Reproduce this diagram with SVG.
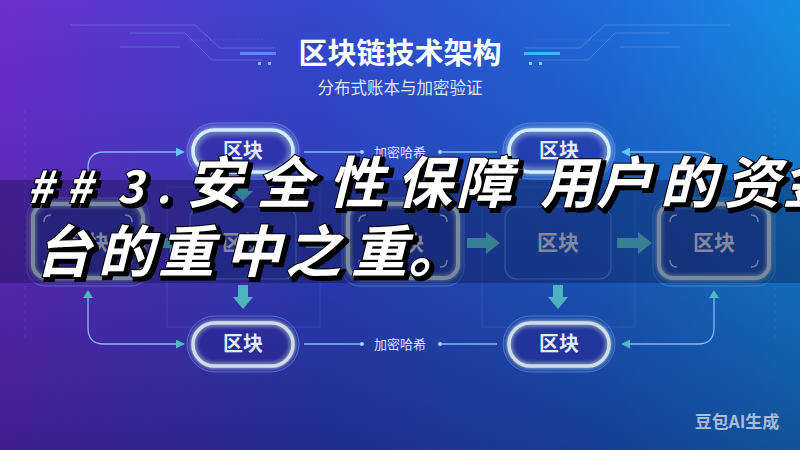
<svg xmlns="http://www.w3.org/2000/svg" width="800" height="450" viewBox="0 0 800 450">
<defs>
<linearGradient id="bgH" x1="0" y1="0" x2="1" y2="0">
<stop offset="0" stop-color="#6e2fd0"/>
<stop offset="0.4" stop-color="#3449cf"/>
<stop offset="0.75" stop-color="#1f6ad8"/>
<stop offset="1" stop-color="#168ee4"/>
</linearGradient>
<linearGradient id="bgV" x1="0" y1="0" x2="0" y2="1">
<stop offset="0" stop-color="#0a0a40" stop-opacity="0"/>
<stop offset="0.5" stop-color="#0a0a40" stop-opacity="0.2"/>
<stop offset="1" stop-color="#0a0a40" stop-opacity="0.45"/>
</linearGradient>
<filter id="glow" x="-30%" y="-50%" width="160%" height="200%">
<feGaussianBlur in="SourceGraphic" stdDeviation="3" result="b"/>
<feMerge><feMergeNode in="b"/><feMergeNode in="SourceGraphic"/></feMerge>
</filter>
<filter id="glow2" x="-30%" y="-50%" width="160%" height="200%">
<feGaussianBlur in="SourceGraphic" stdDeviation="2" result="b"/>
<feMerge><feMergeNode in="b"/><feMergeNode in="SourceGraphic"/></feMerge>
</filter>
<filter id="outline" x="-5%" y="-30%" width="110%" height="160%">
<feMorphology in="SourceAlpha" operator="dilate" radius="1.2" result="d"/>
<feOffset in="d" dx="2.5" dy="2.5" result="o"/>
<feFlood flood-color="#000"/>
<feComposite in2="o" operator="in" result="s"/>
<feMerge><feMergeNode in="s"/><feMergeNode in="SourceGraphic"/></feMerge>
</filter>
<marker id="arC" viewBox="0 0 10 10" refX="9" refY="5" markerWidth="9" markerHeight="9" markerUnits="userSpaceOnUse" orient="auto">
<path d="M0,0 L10,5 L0,10 Z" fill="#62c6f2"/>
</marker>
<marker id="arT" viewBox="0 0 10 10" refX="9" refY="5" markerWidth="9" markerHeight="9" markerUnits="userSpaceOnUse" orient="auto">
<path d="M0,0 L10,5 L0,10 Z" fill="#4fb8c2"/>
</marker>
<marker id="dot" viewBox="0 0 10 10" refX="5" refY="5" markerWidth="4" markerHeight="4" markerUnits="userSpaceOnUse" orient="auto">
<circle cx="5" cy="5" r="5" fill="#a8d0ff"/>
</marker>
<style>
.lbl{font-family:"Noto Sans CJK SC","Noto Sans",sans-serif;font-weight:700;text-anchor:middle;fill:#e4eaf6;font-size:20px}
.lbl2{fill:#b9c1cf;font-size:21px}
.ring{fill:none;stroke:#72a8ff;stroke-opacity:.5;stroke-width:1}
.pill{fill:#2c2fa0;fill-opacity:.35;stroke:#d2efff;stroke-width:3.5;filter:url(#glow)}
.pillb{fill:#2a2c95;fill-opacity:.35;stroke:#cfdde6;stroke-width:3.5;filter:url(#glow2)}
.box{fill:#1e3590;fill-opacity:.35;stroke:#a9c3cc;stroke-width:4;filter:url(#glow2)}
.boxring{fill:none;stroke:#6ab0e0;stroke-opacity:.45;stroke-width:1}
.thin{fill:#1d4aa8;fill-opacity:.22;stroke:#5f9ae0;stroke-opacity:.65;stroke-width:1.2}
.corner{fill:none;stroke:#b8d4dc;stroke-width:1.4;stroke-opacity:.8}
.conn{fill:none;stroke:#86b8f5;stroke-width:1.3}
.blk{fill:#4db3bf}
.hash{font-family:"Noto Sans CJK SC","Noto Sans",sans-serif;font-size:13px;fill:#dbe4ff;text-anchor:middle}
.deco{fill:none;stroke:#9fb8ff;stroke-opacity:.3;stroke-width:1}
.faint{fill:none;stroke:#8fb4ff;stroke-opacity:.14;stroke-width:1}
.ov{font-family:"Noto Sans CJK SC","Noto Sans",sans-serif;font-weight:700;font-style:italic;font-size:56px;fill:#ffffff;stroke:#000;stroke-width:2;paint-order:stroke;filter:url(#outline)}
</style>
</defs>

<!-- background -->
<rect width="800" height="450" fill="url(#bgH)"/>
<rect width="800" height="450" fill="url(#bgV)"/>

<!-- faint decorations -->
<g id="decor">
<path class="deco" d="M70 25 H195 L220 48 H275"/>
<path class="deco" d="M130 33 H185 L212 60 H262"/>
<path class="deco" d="M120 47 H180"/>
<path class="deco" d="M190 40 H268" stroke-dasharray="1 3"/>
<rect x="240" y="52" width="36" height="3" fill="#5f86ff"/>
<rect x="258" y="62" width="3" height="3" fill="#8fb0ff"/>
<rect x="268" y="62" width="3" height="3" fill="#8fb0ff"/>
<path class="deco" d="M730 25 H605 L580 48 H525"/>
<path class="deco" d="M670 33 H615 L588 60 H538"/>
<path class="deco" d="M680 47 H620"/>
<path class="deco" d="M610 40 H532" stroke-dasharray="1 3"/>
<rect x="524" y="52" width="36" height="3" fill="#3fb4ff"/>
<rect x="529" y="62" width="3" height="3" fill="#7fd0ff"/>
<rect x="539" y="62" width="3" height="3" fill="#7fd0ff"/>
<path class="faint" d="M25 110 V340" stroke-dasharray="4 4"/>
<path class="faint" d="M775 110 V340" stroke-dasharray="4 4"/>
<rect class="faint" x="167" y="187" width="153" height="140"/>
<rect class="faint" x="482" y="187" width="153" height="140"/>
</g>

<!-- title -->
<text x="400" y="64" font-family="Noto Sans CJK SC, Noto Sans, sans-serif" font-weight="700" font-size="29" fill="#ffffff" text-anchor="middle">区块链技术架构</text>
<text x="400" y="94" font-family="Noto Sans CJK SC, Noto Sans, sans-serif" font-size="16.5" fill="#dfe4ff" text-anchor="middle">分布式账本与加密验证</text>

<!-- connectors -->
<g id="connectors">
<path class="conn" d="M88 194 V168 Q88 152 104 152 H184" marker-end="url(#arC)"/>
<path class="conn" d="M304 152 H362" marker-end="url(#dot)"/>
<path class="conn" d="M497 152 H440" marker-end="url(#dot)"/>
<path class="conn" d="M714 184 V168 Q714 152 698 152 H622" marker-end="url(#arC)"/>
<path d="M709 185 L719 185 L714 192 Z" fill="#4fb8c2"/>
<path class="conn" d="M88 292 V328 Q88 344 104 344 H184" marker-end="url(#arT)"/>
<path d="M83 298 L93 298 L88 290 Z" fill="#4fb8c2"/>
<path class="conn" d="M304 344 H362" marker-end="url(#dot)"/>
<path class="conn" d="M497 344 H440" marker-end="url(#dot)"/>
<path class="conn" d="M714 293 V328 Q714 344 698 344 H622" marker-end="url(#arT)"/>
<path d="M709 298 L719 298 L714 290 Z" fill="#4fb8c2"/>
<text class="hash" x="400" y="157">加密哈希</text>
<text class="hash" x="400" y="349">加密哈希</text>
<!-- block arrows -->
<path class="blk" d="M152 238 H170 V232 L183 243 L170 254 V248 H152 Z"/>
<path class="blk" d="M306 238 H324 V232 L338 243 L324 254 V248 H306 Z"/>
<path class="blk" d="M467 238 H486 V232 L500 243 L486 254 V248 H467 Z"/>
<path class="blk" d="M617 238 H638 V232 L652 243 L638 254 V248 H617 Z"/>
<path class="blk" d="M238 182 H248 V191 H253 L243 201 L233 191 H238 Z"/>
<path class="blk" d="M553 182 H563 V191 H568 L558 201 L548 191 H553 Z"/>
<path class="blk" d="M238 285 H248 V297 H253 L243 309 L233 297 H238 Z"/>
<path class="blk" d="M553 285 H563 V297 H568 L558 309 L548 297 H553 Z"/>
</g>

<!-- top pills -->
<g id="top1">
<rect class="ring" x="187" y="123" width="112" height="56" rx="28"/>
<rect class="pill" x="193" y="130" width="100" height="42" rx="21"/>
<text class="lbl" x="243" y="158">区块</text>
</g>
<g id="top2">
<rect class="ring" x="503" y="123" width="112" height="56" rx="28"/>
<rect class="pill" x="509" y="130" width="100" height="42" rx="21"/>
<text class="lbl" x="559" y="158">区块</text>
</g>

<!-- middle row -->
<g id="mid1">
<rect class="boxring" x="27" y="198" width="122" height="88" rx="18"/>
<rect class="box" x="33" y="204" width="110" height="74" rx="14"/>
<path class="corner" d="M44 222 Q44 215 51 215 M132 222 Q132 215 125 215 M44 260 Q44 267 51 267 M132 260 Q132 267 125 267"/>
<text class="lbl lbl2" x="88" y="250">区块</text>
</g>
<g id="mid2">
<rect class="thin" x="190" y="207" width="106" height="72" rx="12"/>
<text class="lbl lbl2" x="243" y="250">区块</text>
</g>
<g id="mid3">
<rect class="boxring" x="342" y="198" width="122" height="88" rx="18"/>
<rect class="box" x="348" y="204" width="110" height="74" rx="14"/>
<path class="corner" d="M359 222 Q359 215 366 215 M447 222 Q447 215 440 215 M359 260 Q359 267 366 267 M447 260 Q447 267 440 267"/>
<text class="lbl lbl2" x="403" y="250">区块</text>
</g>
<g id="mid4">
<rect class="thin" x="505" y="207" width="106" height="72" rx="12"/>
<text class="lbl lbl2" x="558" y="250">区块</text>
</g>
<g id="mid5">
<rect class="boxring" x="653" y="198" width="122" height="88" rx="18"/>
<rect class="box" x="659" y="204" width="110" height="74" rx="14"/>
<path class="corner" d="M670 222 Q670 215 677 215 M758 222 Q758 215 751 215 M670 260 Q670 267 677 267 M758 260 Q758 267 751 267"/>
<text class="lbl lbl2" x="714" y="250">区块</text>
</g>

<!-- bottom pills -->
<g id="bot1">
<rect class="ring" x="187" y="316" width="112" height="56" rx="28"/>
<rect class="pillb" x="193" y="323" width="100" height="43" rx="21.5"/>
<text class="lbl" x="243" y="351" fill="#d0d6e0">区块</text>
</g>
<g id="bot2">
<rect class="ring" x="503" y="316" width="112" height="56" rx="28"/>
<rect class="pillb" x="509" y="323" width="100" height="43" rx="21.5"/>
<text class="lbl" x="559" y="351" fill="#d0d6e0">区块</text>
</g>

<!-- subtitle overlay band -->
<rect x="0" y="180" width="800" height="103" fill="#05052a" fill-opacity="0.3"/>
<text class="ov" y="203"><tspan font-size="44" x="27 66 117 156 170">##3. </tspan><tspan x="186 256 328 396 456 505">安全性保障 </tspan><tspan x="540 596 660 724 782">用户的资金</tspan></text>
<text class="ov" y="272" x="35 98 158 225 285 351 408">台的重中之重。</text>

<!-- watermark -->
<text x="737" y="428" font-family="Noto Sans CJK SC, Noto Sans, sans-serif" font-weight="700" font-size="17" fill="#c8d0e4" fill-opacity="0.85" text-anchor="middle">豆包AI生成</text>
</svg>
